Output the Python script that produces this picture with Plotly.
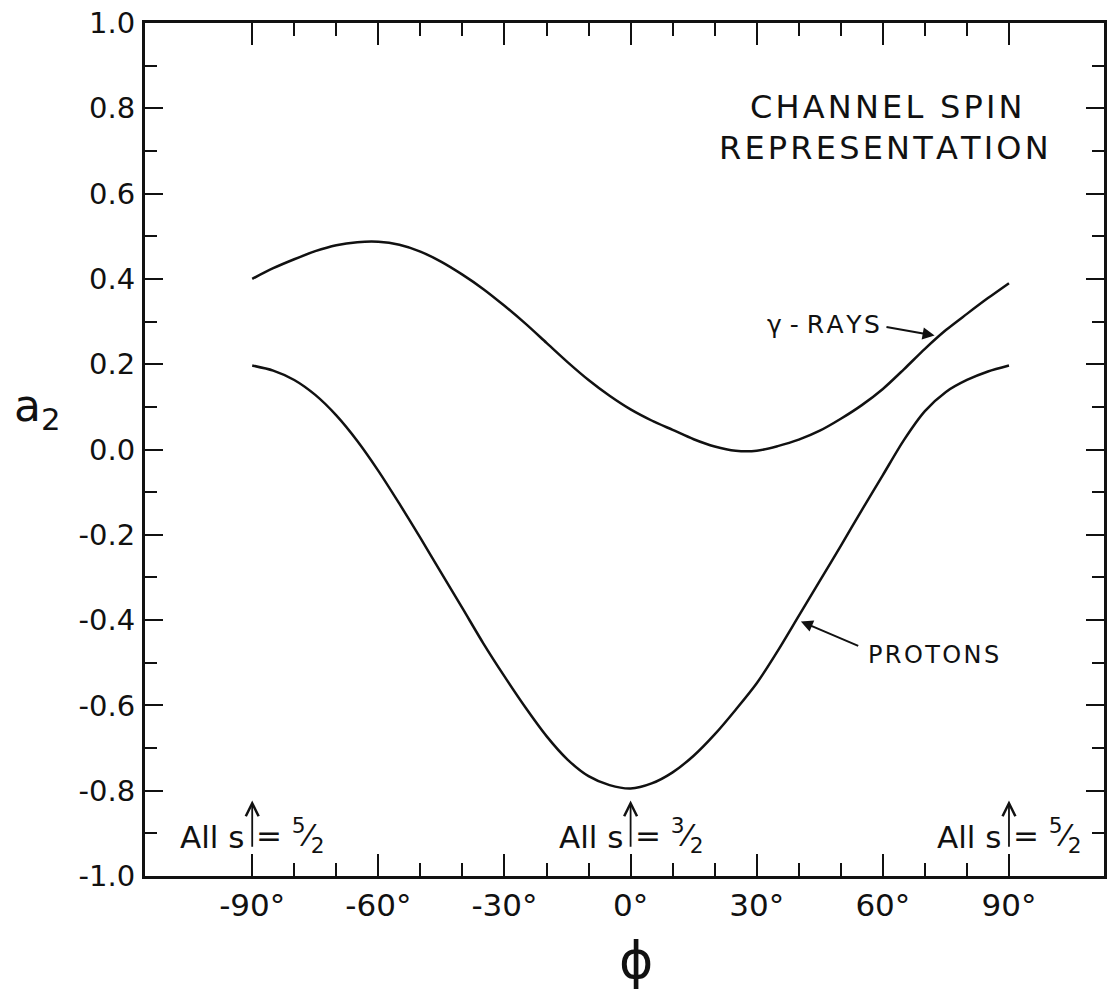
import plotly.graph_objects as go

# ---- data ----
phi_deg = [-90, -85, -80, -75, -70, -65, -60, -55, -50, -45, -40, -35, -30, -25, -20, -15, -10, -5,
           0, 5, 10, 15, 20, 25, 30, 35, 40, 45, 50, 55, 60, 65, 70, 75, 80, 85, 90]
gamma_rays = [0.400, 0.425, 0.446, 0.465, 0.479, 0.486, 0.487, 0.480, 0.464, 0.440, 0.410, 0.376,
              0.337, 0.295, 0.250, 0.205, 0.163, 0.126, 0.094, 0.068, 0.046, 0.024, 0.007, -0.003,
              -0.003, 0.008, 0.023, 0.044, 0.072, 0.104, 0.142, 0.188, 0.236, 0.280, 0.318, 0.355,
              0.390]
protons = [0.197, 0.185, 0.163, 0.128, 0.080, 0.020, -0.050, -0.127, -0.207, -0.290, -0.372, -0.455,
           -0.532, -0.605, -0.672, -0.727, -0.766, -0.787, -0.795, -0.783, -0.757, -0.718, -0.668,
           -0.610, -0.548, -0.472, -0.390, -0.308, -0.226, -0.142, -0.060, 0.022, 0.090, 0.135,
           0.163, 0.183, 0.197]

x_major = [-90, -60, -30, 0, 30, 60, 90]
x_labels = ["-90°", "-60°", "-30°", "0°", "30°", "60°", "90°"]
x_minor = [-80, -70, -50, -40, -20, -10, 10, 20, 40, 50, 70, 80]
y_major = [1.0, 0.8, 0.6, 0.4, 0.2, 0.0, -0.2, -0.4, -0.6, -0.8, -1.0]
y_labels = ["1.0", "0.8", "0.6", "0.4", "0.2", "0.0", "-0.2", "-0.4", "-0.6", "-0.8", "-1.0"]
y_minor = [0.9, 0.7, 0.5, 0.3, 0.1, -0.1, -0.3, -0.5, -0.7, -0.9]

spin_positions = [-90, 0, 90]
spin_values = ["5", "3", "5"]

FONT = "DejaVu Sans"
INK = "#111111"
HS = "\u200a"  # hair space for the wide lettering


def spaced(s):
    return HS.join(list(s))


fig = go.Figure()
for ys in (gamma_rays, protons):
    fig.add_trace(go.Scatter(x=phi_deg, y=ys, mode="lines",
                             line=dict(color=INK, width=2.5, shape="spline", smoothing=0.8),
                             showlegend=False, hoverinfo="skip"))

ann = []
# Channel spin text
ann.append(dict(x=60.8, y=0.802, xref="x", yref="y", text=spaced("CHANNEL SPIN"), showarrow=False,
                font=dict(family=FONT, size=32, color=INK), xanchor="center", yanchor="middle"))
ann.append(dict(x=60.3, y=0.706, xref="x", yref="y", text=spaced("REPRESENTATION"), showarrow=False,
                font=dict(family=FONT, size=32, color=INK), xanchor="center", yanchor="middle"))
# gamma-rays label with arrow
ann.append(dict(x=72.3, y=0.267, xref="x", yref="y", ax=60.5, ay=0.288, axref="x", ayref="y",
                text="", showarrow=True, arrowhead=2, arrowsize=1.2, arrowwidth=2, arrowcolor=INK))
ann.append(dict(x=59.8, y=0.293, xref="x", yref="y", text="γ - " + spaced("RAYS"), showarrow=False,
                font=dict(family=FONT, size=25, color=INK), xanchor="right", yanchor="middle"))
# protons label with arrow
ann.append(dict(x=40.5, y=-0.403, xref="x", yref="y", ax=54.5, ay=-0.462, axref="x", ayref="y",
                text="", showarrow=True, arrowhead=2, arrowsize=1.2, arrowwidth=2, arrowcolor=INK))
ann.append(dict(x=56.0, y=-0.481, xref="x", yref="y", text=spaced("PROTONS"), showarrow=False,
                font=dict(family=FONT, size=24, color=INK), xanchor="left", yanchor="middle"))

# "All s = n/2" markers
for xp, num in zip(spin_positions, spin_values):
    ann.append(dict(x=xp, y=-0.823, xref="x", yref="y", ax=xp, ay=-0.935, axref="x", ayref="y",
                    text="", showarrow=True, arrowhead=5, arrowsize=1.4, arrowwidth=1.8, arrowcolor=INK))
    ann.append(dict(x=xp, y=-0.908, xref="x", yref="y", text="All s", showarrow=False,
                    font=dict(family=FONT, size=31, color=INK), xanchor="right", yanchor="middle",
                    xshift=-6))
    ann.append(dict(x=xp, y=-0.905, xref="x", yref="y",
                    text="= <sup>" + num + "</sup>⁄<sub>2</sub>", showarrow=False,
                    font=dict(family=FONT, size=31, color=INK), xanchor="left", yanchor="middle",
                    xshift=2))

# axis titles
ann.append(dict(x=0.512, y=-0.098, xref="paper", yref="paper", text="ϕ", showarrow=False,
                font=dict(family=FONT, size=52, color=INK), xanchor="center", yanchor="middle"))
ann.append(dict(x=-0.112, y=0.548, xref="paper", yref="paper", text="a<sub>2</sub>", showarrow=False,
                font=dict(family=FONT, size=44, color=INK), xanchor="center", yanchor="middle"))

fig.update_layout(
    width=1109, height=993,
    margin=dict(l=145, r=2, t=23, b=117),
    paper_bgcolor="white", plot_bgcolor="white",
    annotations=ann,
    showlegend=False,
)
fig.update_xaxes(
    range=[-115.5, 112.6], showgrid=False, zeroline=False,
    showline=True, linecolor=INK, linewidth=3, mirror="ticks",
    ticks="inside", ticklen=22, tickwidth=1.8, tickcolor=INK,
    tickmode="array", tickvals=x_major, ticktext=x_labels,
    tickfont=dict(family=FONT, size=31, color=INK), ticklabelstandoff=0,
    minor=dict(tickmode="array", tickvals=x_minor, ticks="inside", ticklen=13,
               tickwidth=1.5, tickcolor=INK, showgrid=False),
)
fig.update_yaxes(
    range=[-1.0, 1.0], showgrid=False, zeroline=False,
    showline=True, linecolor=INK, linewidth=3, mirror="ticks",
    ticks="inside", ticklen=18, tickwidth=1.8, tickcolor=INK,
    tickmode="array", tickvals=y_major, ticktext=y_labels,
    tickfont=dict(family=FONT, size=29, color=INK), ticklabelstandoff=1,
    minor=dict(tickmode="array", tickvals=y_minor, ticks="inside", ticklen=12,
               tickwidth=1.5, tickcolor=INK, showgrid=False),
)

fig.write_html("out.html")
